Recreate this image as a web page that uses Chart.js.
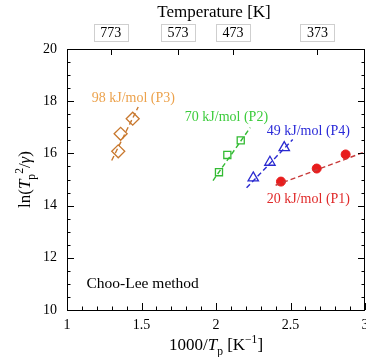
<!DOCTYPE html>
<html>
<head>
<meta charset="utf-8">
<script src="https://cdn.jsdelivr.net/npm/chart.js@4"></script>
<style>
  body { margin: 0; background: #fff; overflow: hidden; }
</style>
</head>
<body>
<canvas id="arrhenius" width="366" height="357"></canvas>
<script>
// measured points (x = 1000/Tp, y = ln(Tp^2/gamma))
const p1X = [2.436, 2.676, 2.870];
const p1Y = [14.92, 15.42, 15.96];
const p2X = [2.020, 2.076, 2.166];
const p2Y = [15.28, 15.94, 16.50];
const p3X = [1.344, 1.360, 1.441];
const p3Y = [16.08, 16.75, 17.33];
const p4X = [2.250, 2.362, 2.458];
const p4Y = [15.06, 15.66, 16.22];

// dashed fit lines, endpoints
const fitP1 = [[2.40, 14.78], [3.01, 16.08]];
const fitP2 = [[1.98, 14.96], [2.23, 16.99]];
const fitP3 = [[1.30, 15.73], [1.478, 17.78]];
const fitP4 = [[2.205, 14.68], [2.515, 16.53]];

const xTicks = [1, 1.5, 2, 2.5, 3];
const yTicks = [10, 12, 14, 16, 18, 20];
const topTemps = [773, 573, 473, 373];

const labels = [
  { text: "98 kJ/mol (P3)", x: 1.445, y: 18.1, color: "#eca24c" },
  { text: "70 kJ/mol (P2)", x: 2.07, y: 17.38, color: "#3ccc3c" },
  { text: "49 kJ/mol (P4)", x: 2.62, y: 16.85, color: "#2a2ad8" },
  { text: "20 kJ/mol (P1)", x: 2.62, y: 14.25, color: "#e02a2a" },
];

const SERIF = '"Liberation Serif", "DejaVu Serif", serif';

const pts = (xs, ys) => xs.map((x, i) => ({ x, y: ys[i] }));
const seg = (s) => s.map(([x, y]) => ({ x, y }));

const fitLine = (data, color) => ({
  data: seg(data), showLine: true, pointRadius: 0,
  borderColor: color, borderWidth: 1.4, borderDash: [5, 3], fill: false,
});

// draw a run of text pieces, some italic / sub / sup
const drawRich = (ctx, parts, x, y, size) => {
  const fontOf = (p) => {
    const s = p.sub || p.sup ? size * 0.68 : size;
    return (p.italic ? "italic " : "") + s + "px " + SERIF;
  };
  let w = 0;
  parts.forEach((p) => { ctx.font = fontOf(p); w += ctx.measureText(p.t).width; });
  let cx = x - w / 2;
  ctx.textAlign = "left";
  ctx.textBaseline = "alphabetic";
  parts.forEach((p) => {
    ctx.font = fontOf(p);
    let dy = 0;
    if (p.sub) dy = size * 0.3;
    if (p.sup) dy = -size * 0.42;
    ctx.fillText(p.t, cx, y + dy);
    cx += ctx.measureText(p.t).width;
  });
};

const axesPlugin = {
  id: "axesPlugin",
  afterDraw(chart) {
    const { ctx, chartArea: a, scales } = chart;
    const xs = scales.x, ys = scales.y;
    ctx.save();
    ctx.strokeStyle = "#000";
    ctx.lineWidth = 1;
    ctx.strokeRect(a.left + 0.5, a.top + 0.5, a.right - a.left - 1, a.bottom - a.top);

    // x ticks, bottom
    for (let v = 1; v <= 3.0001; v += 0.1) {
      const px = Math.round(xs.getPixelForValue(v)) + 0.5;
      const major = Math.abs(v * 2 - Math.round(v * 2)) < 1e-6;
      ctx.beginPath();
      ctx.moveTo(px, a.bottom);
      ctx.lineTo(px, a.bottom - (major ? 7 : 3.5));
      ctx.stroke();
    }
    // y ticks, left and right
    for (let v = 10; v <= 20.0001; v += 0.5) {
      const py = Math.round(ys.getPixelForValue(v)) + 0.5;
      const major = Math.abs(v / 2 - Math.round(v / 2)) < 1e-6;
      const len = major ? 7 : 3.5;
      ctx.beginPath();
      ctx.moveTo(a.left, py); ctx.lineTo(a.left + len, py);
      ctx.moveTo(a.right, py); ctx.lineTo(a.right - len, py);
      ctx.stroke();
    }

    ctx.fillStyle = "#000";
    ctx.font = "14px " + SERIF;
    ctx.textAlign = "center";
    ctx.textBaseline = "top";
    xTicks.forEach((v) => ctx.fillText(String(v), xs.getPixelForValue(v), a.bottom + 8));
    ctx.textAlign = "right";
    ctx.textBaseline = "middle";
    yTicks.forEach((v) => ctx.fillText(String(v), a.left - 10, ys.getPixelForValue(v)));

    // top temperature axis
    topTemps.forEach((t) => {
      const px = xs.getPixelForValue(1000 / t);
      const rx = Math.round(px) + 0.5;
      ctx.beginPath();
      ctx.moveTo(rx, a.top); ctx.lineTo(rx, a.top + 6);
      ctx.stroke();
      ctx.strokeStyle = "#cfcfcf";
      ctx.strokeRect(Math.round(px - 17) + 0.5, 24.5, 34, 17);
      ctx.strokeStyle = "#000";
      ctx.textAlign = "center";
      ctx.fillText(String(t), px, 33.5);
    });
    ctx.font = "17px " + SERIF;
    ctx.textAlign = "center";
    ctx.fillText("Temperature [K]", (a.left + a.right) / 2 - 2, 13);

    // x title
    drawRich(ctx, [
      { t: "1000/" }, { t: "T", italic: true }, { t: "p", sub: true },
      { t: " [K" }, { t: "\u22121", sup: true }, { t: "]" },
    ], (a.left + a.right) / 2, 350, 17);

    // y title
    ctx.save();
    ctx.translate(30, (a.top + a.bottom) / 2);
    ctx.rotate(-Math.PI / 2);
    drawRich(ctx, [
      { t: "ln(" }, { t: "T", italic: true }, { t: "p", sub: true },
      { t: "2", sup: true }, { t: "/" }, { t: "\u03b3", italic: true }, { t: ")" },
    ], 0, 0, 17);
    ctx.restore();

    // series labels
    ctx.font = "14px " + SERIF;
    ctx.textAlign = "center";
    ctx.textBaseline = "middle";
    labels.forEach((l) => {
      ctx.fillStyle = l.color;
      ctx.fillText(l.text, xs.getPixelForValue(l.x), ys.getPixelForValue(l.y));
    });
    ctx.fillStyle = "#000";
    ctx.font = "15.5px " + SERIF;
    ctx.textAlign = "left";
    ctx.fillText("Choo-Lee method", a.left + 19.5, ys.getPixelForValue(11.0));
    ctx.restore();
  },
};

new Chart(document.getElementById("arrhenius"), {
  type: "scatter",
  data: {
    datasets: [
      fitLine(fitP3, "#c8782e"),
      fitLine(fitP2, "#33bb33"),
      fitLine(fitP4, "#2a2ad0"),
      fitLine(fitP1, "#c83a3a"),
      { data: pts(p3X, p3Y), pointStyle: "rectRot", pointRadius: 6.5, borderColor: "#c8782e", backgroundColor: "rgba(0,0,0,0)", borderWidth: 1.3 },
      { data: pts(p2X, p2Y), pointStyle: "rect", pointRadius: 5, borderColor: "#33bb33", backgroundColor: "rgba(0,0,0,0)", borderWidth: 1.3 },
      { data: pts(p4X, p4Y), pointStyle: "triangle", pointRadius: 6, borderColor: "#2a2ad0", backgroundColor: "rgba(0,0,0,0)", borderWidth: 1.3 },
      { data: pts(p1X, p1Y), pointStyle: "circle", pointRadius: 4.5, borderColor: "#e81c1c", backgroundColor: "#e81c1c", borderWidth: 1 },
    ],
  },
  options: {
    responsive: false,
    animation: false,
    events: [],
    layout: { autoPadding: false, padding: { left: 67, top: 49, right: 1, bottom: 47 } },
    plugins: { legend: { display: false }, tooltip: { enabled: false } },
    scales: {
      x: { type: "linear", min: 1, max: 3, display: false },
      y: { type: "linear", min: 10, max: 20, display: false },
    },
  },
  plugins: [axesPlugin],
});
</script>
</body>
</html>
